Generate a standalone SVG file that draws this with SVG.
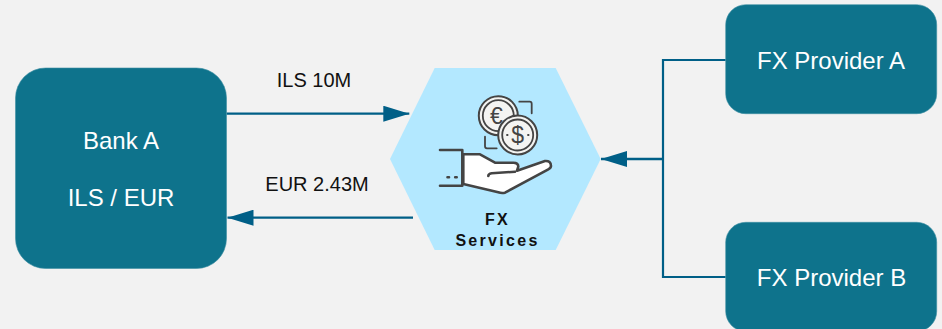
<svg xmlns="http://www.w3.org/2000/svg" width="942" height="329" viewBox="0 0 942 329">
<style>
text{font-family:"Liberation Sans",Arial,sans-serif}
.box{fill:#0e738c;stroke:#3d8ea3;stroke-width:.6}
.big{font-size:24px;fill:#fff;text-anchor:middle}
.lbl{font-size:20px;fill:#111;text-anchor:middle}
.svc{font-size:16px;font-weight:700;fill:#111;text-anchor:middle;letter-spacing:2.3px}
.ln{fill:none;stroke:#005f87;stroke-width:2.2}
.ic{fill:none;stroke:#444;stroke-width:1.8;stroke-linecap:round;stroke-linejoin:round}
.ic2{fill:none;stroke:#444;stroke-width:2.600;stroke-linecap:round;stroke-linejoin:round}
.coin{fill:#f4f4f2;stroke:#444;stroke-width:2}
.gl{font-size:23px;fill:#444;text-anchor:middle}
</style>
<defs>
<marker id="arr" markerUnits="userSpaceOnUse" markerWidth="27" markerHeight="16" refX="26" refY="8" orient="auto-start-reverse">
<path d="M0 0L26 8L0 16Z" fill="#005f87"/>
</marker>
</defs>
<rect width="942" height="329" fill="#f2f2f2"/>
<g id="connectors">
<path class="ln" d="M226.500 113.700H409.300" marker-end="url(#arr)"/>
<path class="ln" d="M413 217.700H227.500" marker-end="url(#arr)"/>
<path class="ln" d="M725.700 60H663V277H725.700"/>
<path class="ln" d="M663 159H601" style="stroke-width:2.500px" marker-end="url(#arr)"/>
</g>
<g id="bank-a">
<rect class="box" x="15.500" y="68" width="211" height="200.500" rx="30" ry="30"/>
<text class="big" x="121" y="149">Bank A</text>
<text class="big" x="121" y="206">ILS / EUR</text>
</g>
<g id="fx-services">
<path d="M434.700 68H555.700L600.700 159L555.700 250H434.700L390 159Z" fill="#b3e8ff"/>
<g id="fx-icon">
<path class="ic" d="M519.300 101.700H529.700Q531.700 101.700 531.700 103.700V113.300"/>
<path class="ic" d="M485 136.700V146.300Q485 148.300 487 148.300H496.700"/>
<circle class="coin" cx="498.300" cy="115.700" r="19.500"/>
<circle class="ic" cx="498.300" cy="115.700" r="15.500"/>
<text class="gl" x="496.500" y="123.500">€</text>
<circle class="coin" cx="517.700" cy="135" r="19.500"/>
<circle class="ic" cx="517.700" cy="135" r="15.500"/>
<text class="gl" x="517.700" y="143">$</text>
<path class="ic" d="M507 135h.6M528 135h.6"/>
<path d="M463.300 154.300H480L495 162.700H513.300Q518.300 162.700 518.300 166.700L517 170.700L545 161Q551 160.500 551 166Q551 168 548.300 169.300L505 192.700Q501.500 193.500 498.300 192.300L463.300 184Z" fill="#fff" stroke="#444" stroke-width="2.600" stroke-linejoin="round"/>
<path class="ic2" d="M515 171.700L491.700 173.300Q488.300 174 488.300 176"/>
<path class="ic2" d="M440 150H462.300V185.700H440"/>
<path class="ic2" d="M447.500 177.300h1.500M455.200 177.300h1.500"/>
</g>
<text class="svc" x="497.500" y="225">FX</text>
<text class="svc" x="497.500" y="246">Services</text>
</g>
<g id="provider-a">
<rect class="box" x="725.700" y="4.700" width="211" height="109" rx="20" ry="20"/>
<text class="big" x="831" y="69">FX Provider A</text>
</g>
<g id="provider-b">
<rect class="box" x="725.700" y="222.300" width="211" height="109" rx="20" ry="20"/>
<text class="big" x="831.500" y="286">FX Provider B</text>
</g>
<g id="labels">
<text class="lbl" x="314" y="87.300">ILS 10M</text>
<text class="lbl" x="317" y="191.300">EUR 2.43M</text>
</g>
</svg>
